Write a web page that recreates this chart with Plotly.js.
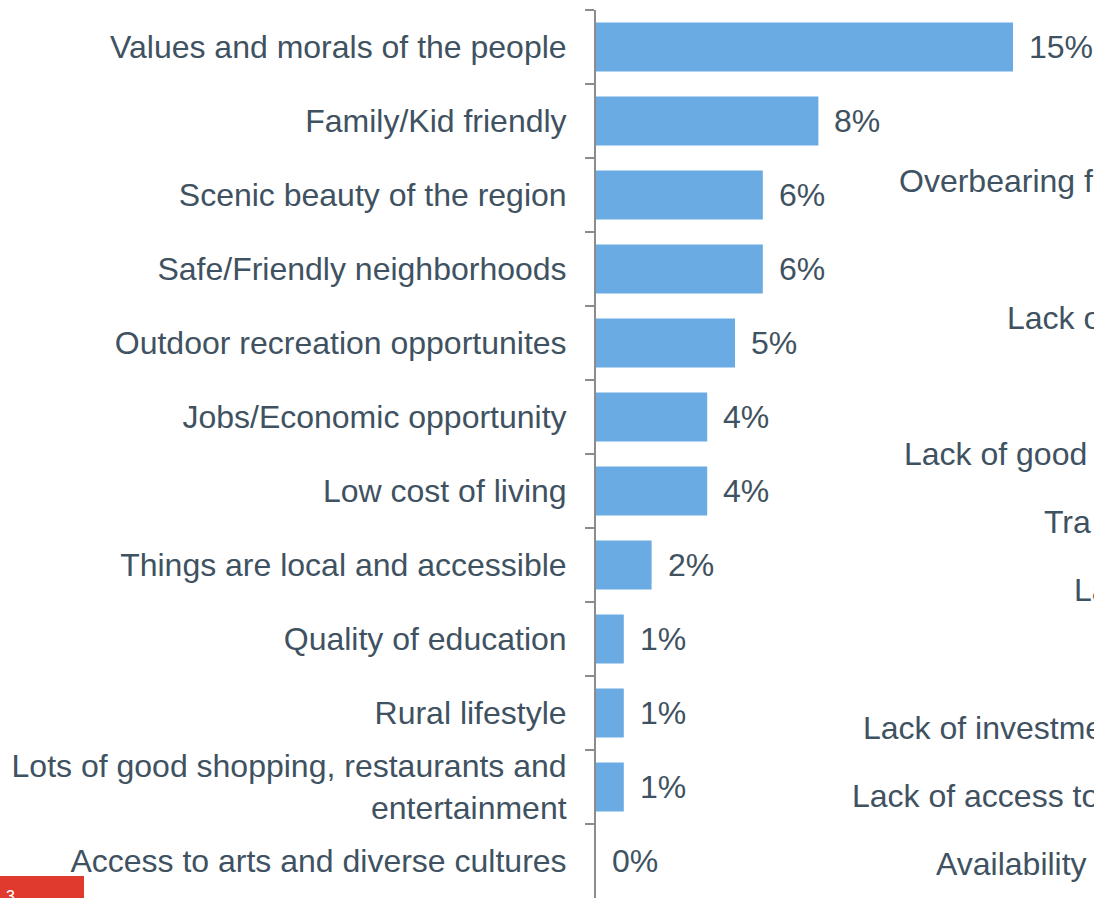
<!DOCTYPE html>
<html>
<head>
<meta charset="utf-8">
<script src="https://cdn.plot.ly/plotly-3.0.1.min.js"></script>
<style>
  html, body { margin: 0; padding: 0; background: #ffffff; overflow: hidden; }
  #chart { width: 1094px; height: 898px; }
</style>
</head>
<body>
<div id="chart"></div>
<script>
const categories = [
  "Values and morals of the people",
  "Family/Kid friendly",
  "Scenic beauty of the region",
  "Safe/Friendly neighborhoods",
  "Outdoor recreation opportunites",
  "Jobs/Economic opportunity",
  "Low cost of living",
  "Things are local and accessible",
  "Quality of education",
  "Rural lifestyle",
  "Lots of good shopping, restaurants and<br>entertainment",
  "Access to arts and diverse cultures"
];
const values = [15, 8, 6, 6, 5, 4, 4, 2, 1, 1, 1, 0];
const valueLabels = ["15%", "8%", "6%", "6%", "5%", "4%", "4%", "2%", "1%", "1%", "1%", "0%"];

// Partially visible labels of the neighbouring (cropped) chart
const sideLabels = ["Overbearing f", "Lack o", "Lack of good", "Tra", "La", "Lack of investme", "Lack of access to", "Availability"];

const textColor = "#3f5261";
const fontFamily = "Liberation Sans, Arial, sans-serif";
const fs = 32;

const W = 1094, H = 898;
const ml = 596, mt = 10, mb = 0, mr = 0;
const pw = W - ml - mr, ph = H - mt - mb;
const px = (x) => (x - ml) / pw;
const py = (y) => (H - mb - y) / ph;

const sideLeft = [897, 1005, 902, 1042, 1072, 861, 850, 934];
const sideY = [181, 318, 454, 522, 590, 728, 796, 864];

const annotations = sideLabels.map((t, i) => ({
  text: t, xref: "paper", yref: "paper",
  x: px(sideLeft[i]), y: py(sideY[i]),
  xanchor: "left", yanchor: "middle", showarrow: false,
  font: {family: fontFamily, size: fs, color: textColor}
}));

// value labels, tied to the data
values.forEach((v, i) => {
  annotations.push({
    text: valueLabels[i], xref: "x", yref: "y",
    x: v, y: categories[i],
    xanchor: "left", yanchor: "middle", xshift: 14, showarrow: false,
    font: {family: fontFamily, size: fs, color: textColor}
  });
});

annotations.push({
  text: "3", xref: "paper", yref: "paper",
  x: px(4), y: py(886), xanchor: "left", yanchor: "top", showarrow: false,
  font: {family: fontFamily, size: 16, color: "#ffffff"}
});

const trace = {
  type: "bar",
  orientation: "h",
  y: categories,
  x: values,
  cliponaxis: false,
  marker: {color: "#6aabe3"},
  hoverinfo: "skip"
};

const layout = {
  width: W, height: H,
  margin: {l: ml, r: mr, t: mt, b: mb, pad: 0},
  paper_bgcolor: "#ffffff",
  plot_bgcolor: "#ffffff",
  showlegend: false,
  bargap: 0.34,
  font: {family: fontFamily, size: fs, color: textColor},
  xaxis: {
    range: [0, pw / 27.8],
    visible: false,
    showgrid: false, zeroline: false
  },
  yaxis: {
    type: "category",
    autorange: "reversed",
    showline: true, linecolor: "#8c8c8c", linewidth: 2,
    ticks: "outside", tickson: "boundaries", ticklen: 9, tickwidth: 2, tickcolor: "#8c8c8c",
    tickfont: {family: fontFamily, size: fs, color: textColor},
    ticklabelstandoff: 21,
    showgrid: false, zeroline: false
  },
  shapes: [{
    type: "rect", xref: "paper", yref: "paper",
    x0: px(0), x1: px(84), y0: py(910), y1: py(876),
    fillcolor: "#e03a2f", line: {width: 0}
  }],
  annotations: annotations
};

Plotly.newPlot("chart", [trace], layout, {displayModeBar: false, staticPlot: true});
</script>
</body>
</html>
